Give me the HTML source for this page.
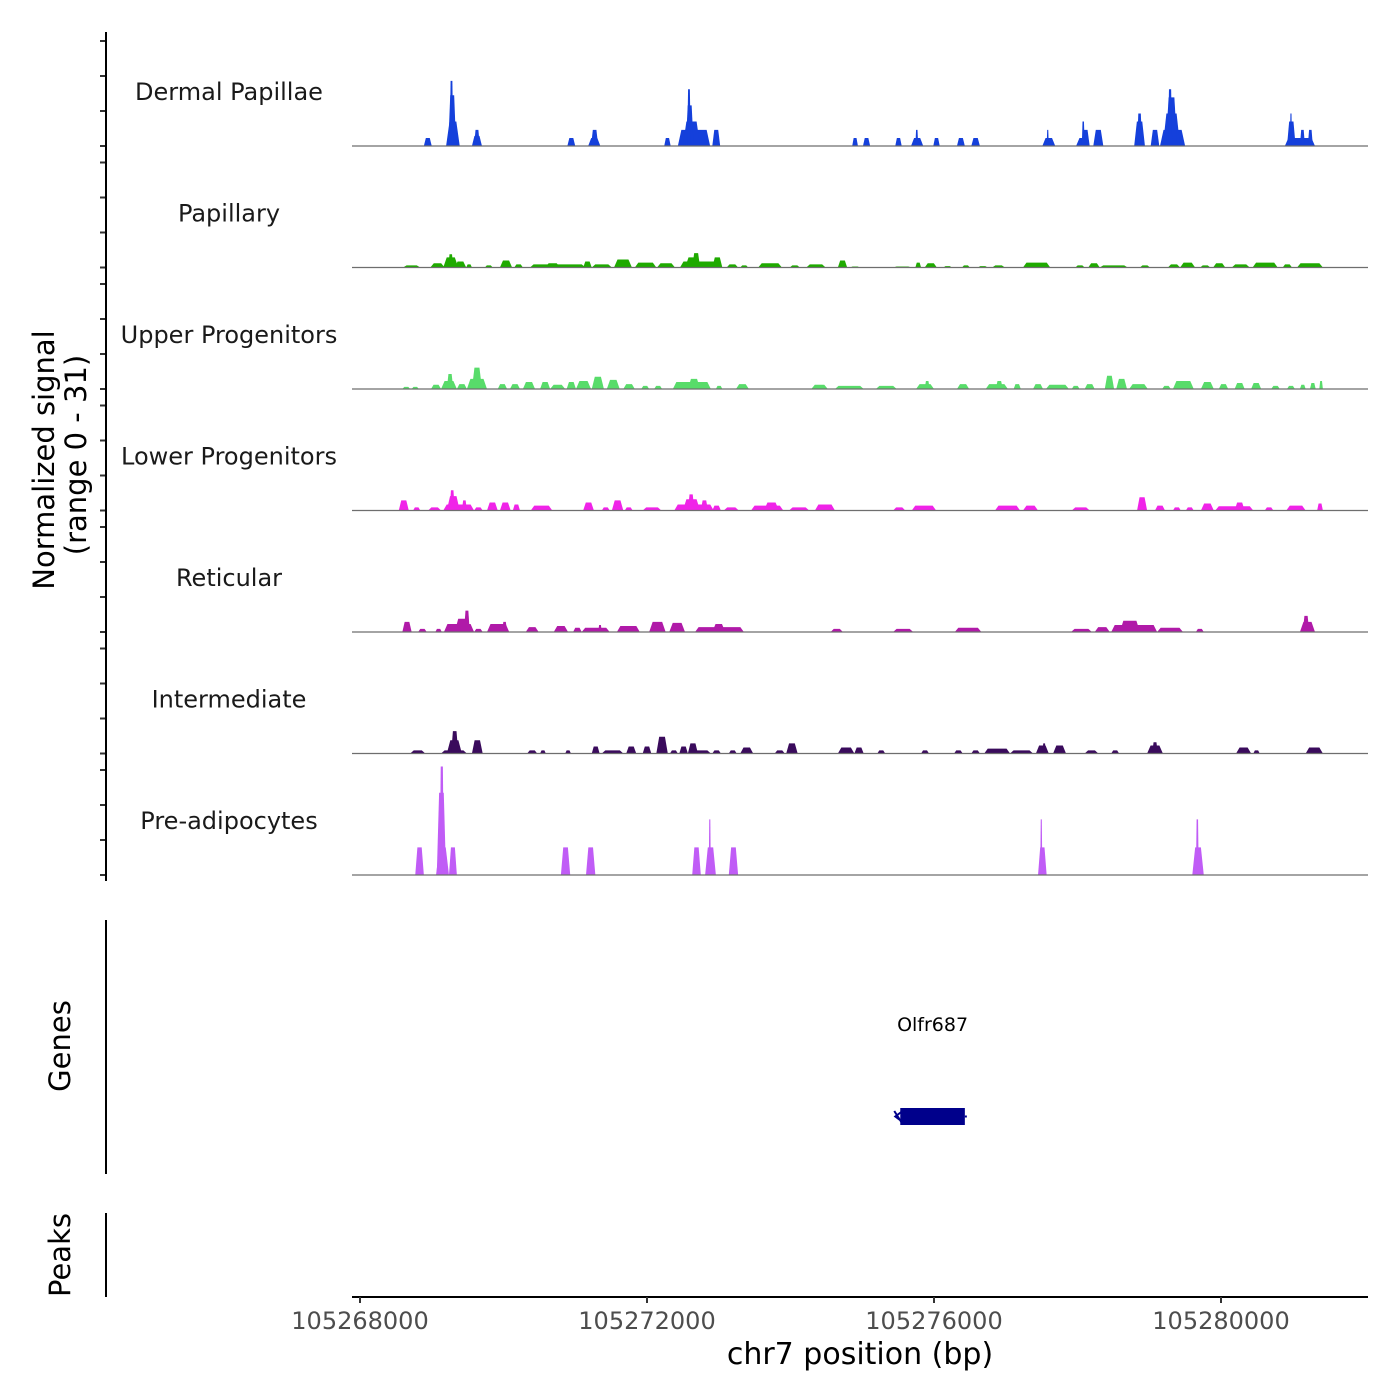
<!DOCTYPE html>
<html><head><meta charset="utf-8"><style>
html,body{margin:0;padding:0;background:#fff;}
svg{display:block;font-family:"DejaVu Sans","Liberation Sans",sans-serif;}
</style></head><body>
<svg id="chart" width="1400" height="1400" viewBox="0 0 1400 1400" xmlns="http://www.w3.org/2000/svg">
<rect x="0" y="0" width="1400" height="1400" fill="#fff"/>
<g id="tracks"></g>
<g id="yaxis"></g>
<text transform="translate(54,460) rotate(-90)" text-anchor="middle" font-size="29" fill="#000">Normalized signal</text>
<text transform="translate(86,455) rotate(-90)" text-anchor="middle" font-size="29" fill="#000">(range 0 - 31)</text>
<line x1="106" y1="920" x2="106" y2="1174" stroke="#000" stroke-width="2"/>
<text transform="translate(70,1046) rotate(-90)" text-anchor="middle" font-size="29" fill="#000">Genes</text>
<line x1="106" y1="1213" x2="106" y2="1297" stroke="#000" stroke-width="2"/>
<text transform="translate(70,1255) rotate(-90)" text-anchor="middle" font-size="29" fill="#000">Peaks</text>
<g id="genes"></g>
<g id="xaxis"></g>
<text x="860" y="1364" text-anchor="middle" font-size="30" fill="#000">chr7 position (bp)</text>
</svg>
<script>
const regionStart = 105268000;
const xTicks = [105268000, 105272000, 105276000, 105280000];
const trackNames = ["Dermal Papillae","Papillary","Upper Progenitors","Lower Progenitors","Reticular","Intermediate","Pre-adipocytes"];
const trackColors = ["#1540db","#1faa00","#58dc6a","#f023e8","#b01aa8","#3a0b5c","#c05cf6"];
const yTickValues = [0,10,20,30];
// each entry: [start kb offset, end kb offset, normalized signal]
const dermalPapillae = [[0.89,1.00,2.3],[1.20,1.39,7.0],[1.23,1.34,14.5],[1.25,1.30,18.6],[1.56,1.70,2.9],[1.59,1.67,4.6],[2.89,3.00,2.3],[3.18,3.35,2.3],[3.22,3.32,4.6],[4.24,4.33,2.3],[4.43,4.88,4.6],[4.50,4.74,7.0],[4.54,4.65,11.6],[4.56,4.61,16.2],[4.91,5.02,4.6],[6.86,6.94,2.3],[7.01,7.11,2.3],[7.46,7.55,2.3],[7.68,7.85,2.3],[7.74,7.78,4.6],[7.99,8.08,2.3],[8.32,8.43,2.3],[8.52,8.64,2.3],[9.51,9.69,2.3],[9.57,9.60,4.6],[9.98,10.17,2.3],[10.05,10.17,4.6],[10.06,10.10,7.0],[10.22,10.36,4.6],[10.79,10.94,7.0],[10.83,10.90,9.3],[11.02,11.14,4.6],[11.15,11.50,4.6],[11.19,11.43,9.3],[11.23,11.39,13.9],[11.26,11.32,16.2],[12.89,13.31,2.3],[12.92,13.04,7.0],[12.96,12.99,9.3],[13.10,13.17,4.6],[13.21,13.28,4.6]];
const papillary = [[0.60,0.84,0.6],[0.98,1.18,1.2],[1.16,1.37,2.9],[1.23,1.30,3.8],[1.32,1.48,1.7],[1.48,1.56,0.9],[1.74,1.85,0.6],[1.95,2.12,2.0],[2.15,2.27,0.9],[2.37,3.14,0.9],[2.58,2.79,1.2],[3.11,3.23,1.7],[3.23,3.51,0.9],[3.54,3.79,2.3],[3.83,4.13,1.4],[4.14,4.39,1.2],[4.46,5.05,1.7],[4.53,4.74,2.9],[4.63,4.74,4.1],[4.91,5.05,2.9],[5.11,5.27,0.9],[5.30,5.41,0.6],[5.55,5.88,1.2],[5.99,6.13,0.6],[6.22,6.49,0.9],[6.66,6.79,2.0],[6.83,6.97,0.3],[7.43,7.69,0.3],[7.74,7.82,1.4],[7.87,8.04,1.2],[8.13,8.25,0.4],[8.39,8.50,0.6],[8.61,8.75,0.4],[8.81,8.99,0.6],[9.24,9.62,1.4],[9.97,10.10,0.6],[10.15,10.31,1.2],[10.31,10.70,0.6],[10.87,11.01,0.6],[11.26,11.43,0.9],[11.43,11.64,1.4],[11.71,11.85,0.6],[11.89,12.06,1.2],[12.15,12.40,0.9],[12.44,12.79,1.4],[12.86,12.99,0.9],[13.06,13.42,1.2]];
const upperProgenitors = [[0.59,0.70,0.6],[0.72,0.82,0.6],[0.99,1.13,1.2],[1.13,1.35,2.3],[1.21,1.30,4.3],[1.35,1.49,1.4],[1.49,1.77,2.9],[1.56,1.70,6.1],[1.92,2.05,1.4],[2.09,2.23,1.4],[2.27,2.44,2.0],[2.51,2.65,2.0],[2.65,2.86,1.2],[2.88,3.01,2.0],[3.01,3.22,2.3],[3.23,3.40,3.5],[3.44,3.62,2.6],[3.67,3.83,1.4],[3.92,4.03,0.9],[4.10,4.21,0.9],[4.36,4.89,2.0],[4.57,4.74,2.9],[4.96,5.05,0.9],[5.24,5.42,1.4],[6.29,6.52,1.2],[6.62,7.02,0.9],[7.19,7.48,0.9],[7.75,8.00,1.4],[7.87,7.94,2.3],[8.32,8.49,1.4],[8.72,9.03,1.4],[8.86,8.96,2.3],[9.11,9.21,1.4],[9.38,9.52,1.4],[9.56,9.88,1.2],[9.92,10.03,0.9],[10.10,10.24,1.4],[10.38,10.51,3.8],[10.54,10.69,2.9],[10.72,10.98,1.4],[11.18,11.30,0.9],[11.33,11.62,2.3],[11.72,11.90,2.0],[11.97,12.10,1.4],[12.19,12.33,1.7],[12.42,12.56,1.7],[12.70,12.82,0.9],[12.92,13.03,0.9],[13.10,13.18,1.2],[13.24,13.32,1.7],[13.37,13.42,2.3]];
const lowerProgenitors = [[0.54,0.68,2.9],[0.74,0.84,0.9],[0.95,1.13,0.9],[1.16,1.59,1.7],[1.21,1.39,4.1],[1.25,1.32,5.8],[1.42,1.49,2.9],[1.59,1.71,0.9],[1.77,1.92,2.3],[1.95,2.10,2.3],[2.13,2.23,1.7],[2.38,2.68,1.4],[3.11,3.26,2.3],[3.37,3.48,0.9],[3.51,3.67,2.9],[3.69,3.80,0.9],[3.94,4.20,0.9],[4.38,4.93,1.7],[4.50,4.74,3.2],[4.57,4.66,4.6],[4.75,4.85,2.9],[4.91,5.03,1.4],[5.07,5.28,0.9],[5.45,5.90,1.4],[5.63,5.84,2.3],[5.98,6.26,0.9],[6.34,6.62,1.7],[7.43,7.60,0.9],[7.69,8.03,1.4],[8.85,9.20,1.4],[9.24,9.45,1.4],[9.92,10.17,0.9],[10.83,10.97,3.8],[11.08,11.22,1.4],[11.33,11.44,0.9],[11.51,11.62,0.9],[11.72,11.90,2.0],[11.92,12.45,1.2],[12.19,12.33,2.3],[12.61,12.73,0.9],[12.91,13.18,1.4],[13.34,13.42,2.0]];
const reticular = [[0.59,0.72,2.9],[0.81,0.93,0.9],[1.05,1.14,0.9],[1.17,1.59,2.3],[1.32,1.53,3.8],[1.45,1.53,6.1],[1.59,1.71,0.9],[1.77,2.08,2.3],[1.98,2.05,2.9],[2.31,2.49,1.4],[2.70,2.90,1.7],[2.97,3.09,1.2],[3.09,3.48,1.2],[3.32,3.37,2.0],[3.58,3.90,1.7],[4.03,4.26,2.9],[4.31,4.53,2.6],[4.67,5.35,1.4],[4.91,5.09,2.3],[6.56,6.73,0.9],[7.43,7.71,0.9],[8.29,8.66,1.2],[9.91,10.20,0.9],[10.24,10.45,1.4],[10.47,11.11,2.0],[10.59,10.87,3.2],[11.11,11.47,1.2],[11.65,11.76,0.9],[13.10,13.31,2.9],[13.14,13.23,4.6]];
const intermediate = [[0.70,0.91,0.9],[1.13,1.49,0.9],[1.21,1.42,3.8],[1.27,1.37,6.4],[1.56,1.71,3.8],[2.33,2.47,0.9],[2.51,2.59,0.9],[2.86,2.94,0.9],[3.23,3.34,2.0],[3.37,3.67,0.9],[3.71,3.85,2.0],[3.94,4.06,2.0],[4.13,4.29,4.8],[4.32,4.43,0.9],[4.45,4.57,2.0],[4.57,4.89,0.9],[4.57,4.71,2.9],[4.91,5.03,0.9],[5.14,5.25,0.9],[5.30,5.48,1.7],[5.78,5.92,0.9],[5.94,6.10,2.9],[6.66,6.89,1.7],[6.89,7.02,1.7],[7.21,7.32,0.9],[7.82,7.93,0.9],[8.28,8.40,0.9],[8.52,8.64,0.9],[8.70,9.06,1.4],[9.06,9.38,0.9],[9.42,9.60,2.3],[9.51,9.56,2.9],[9.66,9.84,2.3],[10.10,10.29,0.9],[10.47,10.58,0.9],[10.97,11.19,2.3],[11.04,11.12,3.2],[12.21,12.42,1.7],[12.45,12.54,0.9],[13.18,13.42,1.7]];
const preAdipocytes = [[0.77,0.89,7.9],[1.06,1.24,7.9],[1.07,1.20,23.5],[1.11,1.17,31],[1.24,1.35,7.9],[2.80,2.93,7.9],[3.15,3.28,7.9],[4.63,4.75,7.9],[4.81,4.96,7.9],[4.86,4.89,15.9],[5.14,5.27,7.9],[9.45,9.57,7.9],[9.48,9.51,15.9],[11.60,11.76,7.9],[11.65,11.69,15.9]];
const trackData = [dermalPapillae, papillary, upperProgenitors, lowerProgenitors, reticular, intermediate, preAdipocytes];
const geneName = "Olfr687";
const geneStart = 105275530;
const geneEnd = 105276430;

const NS = "http://www.w3.org/2000/svg";
const plotLeft = 352, plotRight = 1368;
function xScale(bp){ return 360 + (bp - 105268000) * (861 / 12000); }
function kbToX(kb){ return xScale(regionStart + kb * 1000); }
const firstBaseline = 146, trackStep = 121.5, pxPerUnit = 3.5;
function baselineOf(i){ return firstBaseline + i * trackStep; }
function yScale(i, v){ return baselineOf(i) - v * pxPerUnit; }
function mk(tag, attrs, parent){ const e = document.createElementNS(NS, tag); for (const k in attrs) e.setAttribute(k, attrs[k]); parent.appendChild(e); return e; }

const tracksG = document.getElementById('tracks');
const yG = document.getElementById('yaxis');
trackNames.forEach((name, i) => {
  const g = mk('g', {}, tracksG);
  
  
  const lbl = mk('text', {x: 229, y: baselineOf(i) - 46, 'text-anchor': 'middle', 'font-size': 24, fill: '#1a1a1a'}, g);
  lbl.textContent = name;
  
  
  const segs = trackData[i].slice().sort((a, b) => a[2] - b[2]);
  segs.forEach(s => {
    const x0 = kbToX(s[0]), x1 = kbToX(s[1]);
    const r = Math.min((x1 - x0) * 0.25, 3.5);
    const b = baselineOf(i), t = yScale(i, s[2]);
    const p = mk('polygon', {points: `${x0},${b} ${x0 + r},${t} ${x1 - r},${t} ${x1},${b}`, fill: trackColors[i]}, g);
    
    
  });
  const bl = mk('line', {x1: plotLeft, x2: plotRight, y1: baselineOf(i), y2: baselineOf(i), stroke: '#6e6e6e', 'stroke-width': 1.2}, g);
  
  
  yTickValues.forEach(v => {
    const tk = mk('line', {x1: 100, x2: 106, y1: yScale(i, v), y2: yScale(i, v), stroke: '#333', 'stroke-width': 2}, yG);
    
    
  });
});
const yl = mk('line', {x1: 106, x2: 106, y1: 32, y2: 881, stroke: '#000', 'stroke-width': 2}, yG);



// gene
const gG = document.getElementById('genes');
const gx0 = xScale(geneStart), gx1 = xScale(geneEnd);
const gl = mk('text', {x: (gx0 + gx1) / 2, y: 1031, 'text-anchor': 'middle', 'font-size': 19, fill: '#000'}, gG);
gl.textContent = geneName;


const gr = mk('rect', {x: gx0, y: 1108, width: gx1 - gx0, height: 17, fill: '#00008b'}, gG);


const ga = mk('path', {d: `M${gx0 + 1},1112 L${gx0 - 5},1116.5 L${gx0 + 1},1121 M${gx0 - 6},1111 L${gx0 + 1},1122 M${gx1},1116.5 L${gx1 + 2},1116.5`, stroke: '#00008b', 'stroke-width': 2, fill: 'none'}, gG);



// x axis
const xG = document.getElementById('xaxis');
const xl = mk('line', {x1: plotLeft, x2: plotRight, y1: 1297, y2: 1297, stroke: '#000', 'stroke-width': 2}, xG);


xTicks.forEach(t => {
  const x = xScale(t);
  const tk = mk('line', {x1: x, x2: x, y1: 1297, y2: 1303, stroke: '#333', 'stroke-width': 2}, xG);
  
  
  const tl = mk('text', {x: x, y: 1329, 'text-anchor': 'middle', 'font-size': 24, fill: '#4d4d4d'}, xG);
  tl.textContent = String(t);
  
  
});
</script>
</body></html>
